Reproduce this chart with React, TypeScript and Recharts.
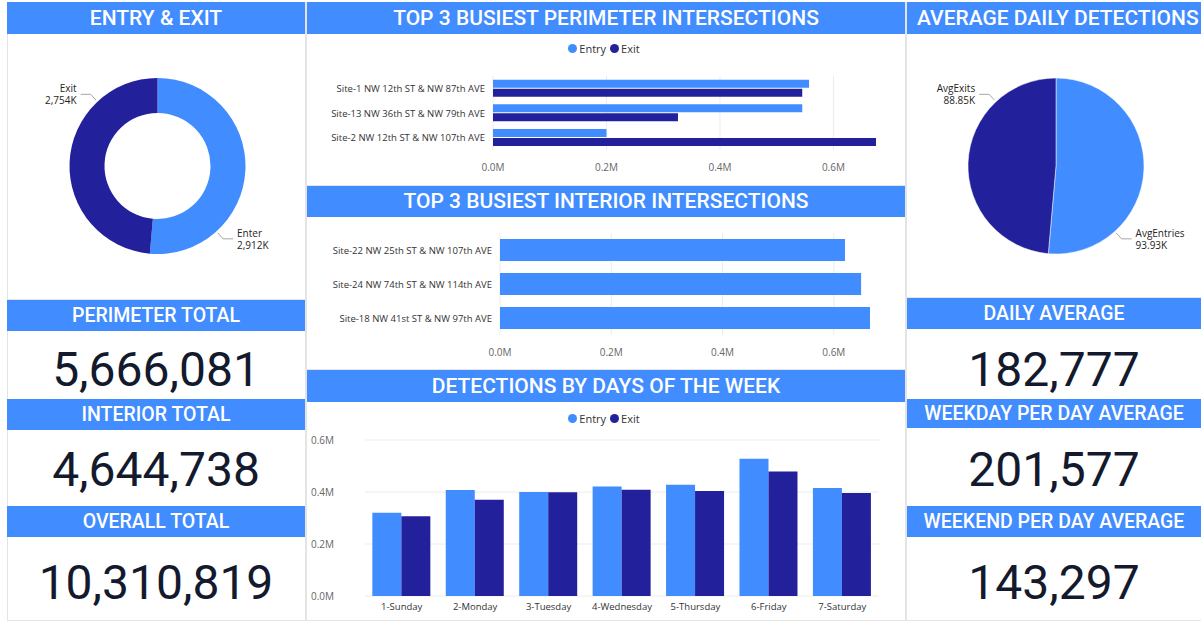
import React from 'react'
import { PieChart, Pie, Cell, BarChart, Bar, XAxis, YAxis, CartesianGrid } from 'recharts'

const BLUE = '#418CFF'
const NAVY = '#23209B'
const BORDER = '#e4e4e4'
const HEAD_FONT = 'Roboto, "DejaVu Sans", sans-serif'
const UI_FONT = '"Segoe UI", "Open Sans", sans-serif'

// donut + pie
const entryExitNames = ['Enter', 'Exit']
const entryExitValues = [2912000, 2754000]
const entryExitText = ['2,912K', '2,754K']

const avgNames = ['AvgEntries', 'AvgExits']
const avgValues = [93930, 88850]
const avgText = ['93.93K', '88.85K']

// bar charts (raw detection counts)
const perimeterSites = [
  'Site-1 NW 12th ST & NW 87th AVE',
  'Site-13 NW 36th ST & NW 79th AVE',
  'Site-2 NW 12th ST & NW 107th AVE',
]
const perimeterEntry = [557000, 545000, 200000]
const perimeterExit = [545000, 326000, 675000]

const interiorSites = [
  'Site-22 NW 25th ST & NW 107th AVE',
  'Site-24 NW 74th ST & NW 114th AVE',
  'Site-18 NW 41st ST & NW 97th AVE',
]
const interiorValues = [620000, 649000, 665000]

const days = ['1-Sunday', '2-Monday', '3-Tuesday', '4-Wednesday', '5-Thursday', '6-Friday', '7-Saturday']
const dayEntry = [320000, 408000, 400000, 421000, 428000, 528000, 415000]
const dayExit = [307000, 370000, 399000, 409000, 404000, 479000, 396000]

const axisTicks = [0, 200000, 400000, 600000]

// KPI cards
const leftTitles = ['PERIMETER TOTAL', 'INTERIOR TOTAL', 'OVERALL TOTAL']
const leftValues = ['5,666,081', '4,644,738', '10,310,819']
const rightTitles = ['DAILY AVERAGE', 'WEEKDAY PER DAY AVERAGE', 'WEEKEND PER DAY AVERAGE']
const rightValues = ['182,777', '201,577', '143,297']

const cardHeaderTops = [300, 399, 506]
const cardValueCenters = [370, 470, 583]

const fmtM = (v: number) => `${(v / 1e6).toFixed(1)}M`
const RADIAN = Math.PI / 180

function sliceLabel(texts: string[]) {
  return (props: any) => {
    const { cx, cy, outerRadius, index, name } = props
    const right = index === 0
    const a = (right ? -48 : 133) * RADIAN
    const r0 = outerRadius + 2
    const r1 = outerRadius + 10
    const x0 = cx + r0 * Math.cos(a)
    const y0 = cy - r0 * Math.sin(a)
    const x1 = cx + r1 * Math.cos(a)
    const y1 = cy - r1 * Math.sin(a)
    const x2 = x1 + (right ? 10 : -10)
    const tx = x2 + (right ? 4 : -4)
    return (
      <g>
        <polyline points={`${x0},${y0} ${x1},${y1} ${x2},${y1}`} stroke="#a6a6a6" fill="none" />
        <text x={tx} y={y1} textAnchor={right ? 'start' : 'end'} fontSize={10} fontFamily={UI_FONT} fill="#252423">
          <tspan x={tx} dy={-2}>{name}</tspan>
          <tspan x={tx} dy={12}>{texts[index]}</tspan>
        </text>
      </g>
    )
  }
}

// single-line category tick (recharts would wrap long labels)
const SiteTick = (props: any) => {
  const { x, y, payload } = props
  return (
    <text x={x} y={y} dy={3.5} textAnchor="end" fontSize={9.5} fontFamily={UI_FONT} fill="#333">
      {payload.value}
    </text>
  )
}

function Box({ x, y, w, h }: { x: number; y: number; w: number; h: number }) {
  return (
    <div style={{ position: 'absolute', left: x, top: y, width: w - 2, height: h - 2, border: `1px solid ${BORDER}` }} />
  )
}

function Header({ x, y, w, h, text, size = 21 }: { x: number; y: number; w: number; h: number; text: string; size?: number }) {
  return (
    <div
      style={{
        position: 'absolute', left: x, top: y, width: w, height: h, background: BLUE, color: '#fff',
        fontFamily: HEAD_FONT, fontSize: size, fontWeight: 500, lineHeight: `${h}px`, textAlign: 'center',
        whiteSpace: 'nowrap', overflow: 'hidden', padding: '0 10px', boxSizing: 'border-box',
      }}
    >
      {text}
    </div>
  )
}

function BigNumber({ x, w, cy, text }: { x: number; w: number; cy: number; text: string }) {
  return (
    <div
      style={{
        position: 'absolute', left: x, top: cy - 30, width: w, height: 60, lineHeight: '60px', textAlign: 'center',
        fontFamily: HEAD_FONT, fontSize: 48, color: '#141a2e',
      }}
    >
      {text}
    </div>
  )
}

function Legend({ x, y, w }: { x: number; y: number; w: number }) {
  const item = (color: string, label: string) => (
    <span style={{ display: 'inline-flex', alignItems: 'center', marginRight: 4 }}>
      <span style={{ width: 9, height: 9, borderRadius: '50%', background: color, marginRight: 2 }} />
      {label}
    </span>
  )
  return (
    <div
      style={{
        position: 'absolute', left: x, top: y - 8, width: w, height: 16, display: 'flex', justifyContent: 'center',
        alignItems: 'center', fontFamily: UI_FONT, fontSize: 11, color: '#333',
      }}
    >
      {item(BLUE, 'Entry')}
      {item(NAVY, 'Exit')}
    </div>
  )
}

export default function App() {
  const entryExitData = entryExitNames.map((name, i) => ({ name, value: entryExitValues[i] }))
  const avgData = avgNames.map((name, i) => ({ name, value: avgValues[i] }))
  const perimeterData = perimeterSites.map((site, i) => ({ site, entry: perimeterEntry[i], exit: perimeterExit[i] }))
  const interiorData = interiorSites.map((site, i) => ({ site, value: interiorValues[i] }))
  const dayData = days.map((day, i) => ({ day, entry: dayEntry[i], exit: dayExit[i] }))
  const colors = [BLUE, NAVY]

  return (
    <div style={{ position: 'fixed', left: 0, top: 0, width: 1201, height: 621, background: '#fff', overflow: 'hidden' }}>
      {/* panel outlines */}
      <Box x={7} y={2} w={299} h={298} />
      <Box x={7} y={300} w={299} h={321} />
      <Box x={306} y={2} w={600} h={184} />
      <Box x={306} y={186} w={600} h={184} />
      <Box x={306} y={370} w={600} h={251} />
      <Box x={906} y={2} w={296} h={296} />
      <Box x={906} y={298} w={296} h={323} />

      {/* left column */}
      <Header x={7} y={2} w={298} h={32} text="ENTRY & EXIT" />
      <div style={{ position: 'absolute', left: 7, top: 34 }}>
        <PieChart width={298} height={264}>
          <Pie
            data={entryExitData}
            dataKey="value"
            nameKey="name"
            cx={145.5}
            cy={127}
            innerRadius={53}
            outerRadius={88}
            startAngle={90}
            endAngle={-270}
            stroke="none"
            label={sliceLabel(entryExitText)}
            labelLine={false}
            isAnimationActive={false}
          >
            {entryExitData.map((d, i) => <Cell key={d.name} fill={colors[i]} />)}
          </Pie>
        </PieChart>
      </div>
      {leftTitles.map((t, i) => (
        <React.Fragment key={t}>
          <Header x={7} y={cardHeaderTops[i]} w={298} h={31} text={t} size={19.5} />
          <BigNumber x={7} w={298} cy={cardValueCenters[i]} text={leftValues[i]} />
        </React.Fragment>
      ))}

      {/* middle column */}
      <Header x={307} y={2} w={598} h={32} text="TOP 3 BUSIEST PERIMETER INTERSECTIONS" />
      <Legend x={307} y={48} w={598} />
      <div style={{ position: 'absolute', left: 307, top: 34 }}>
        <BarChart
          layout="vertical"
          width={598}
          height={151}
          data={perimeterData}
          margin={{ top: 42, right: 29, bottom: 5, left: 0 }}
          barGap={1}
          barCategoryGap="15%"
        >
          <CartesianGrid horizontal={false} stroke="#ececec" syncWithTicks />
          <XAxis
            type="number"
            domain={[0, 'dataMax']}
            ticks={axisTicks}
            tickFormatter={fmtM}
            axisLine={false}
            tickLine={false}
            tickMargin={8}
            height={30}
            tick={{ fill: '#666', fontSize: 10, fontFamily: UI_FONT }}
          />
          <YAxis type="category" dataKey="site" width={186} axisLine={false} tickLine={false} tick={<SiteTick />} />
          <Bar dataKey="entry" fill={BLUE} isAnimationActive={false} />
          <Bar dataKey="exit" fill={NAVY} isAnimationActive={false} />
        </BarChart>
      </div>

      <Header x={307} y={186} w={598} h={31} text="TOP 3 BUSIEST INTERIOR INTERSECTIONS" />
      <div style={{ position: 'absolute', left: 307, top: 217 }}>
        <BarChart
          layout="vertical"
          width={598}
          height={153}
          data={interiorData}
          margin={{ top: 16, right: 35, bottom: 5, left: 0 }}
          barCategoryGap="18%"
        >
          <CartesianGrid horizontal={false} stroke="#ececec" syncWithTicks />
          <XAxis
            type="number"
            domain={[0, 'dataMax']}
            ticks={axisTicks}
            tickFormatter={fmtM}
            axisLine={false}
            tickLine={false}
            tickMargin={8}
            height={30}
            tick={{ fill: '#666', fontSize: 10, fontFamily: UI_FONT }}
          />
          <YAxis type="category" dataKey="site" width={193} axisLine={false} tickLine={false} tick={<SiteTick />} />
          <Bar dataKey="value" fill={BLUE} isAnimationActive={false} />
        </BarChart>
      </div>

      <Header x={307} y={370} w={598} h={32} text="DETECTIONS BY DAYS OF THE WEEK" />
      <Legend x={307} y={418} w={598} />
      <div style={{ position: 'absolute', left: 307, top: 402 }}>
        <BarChart
          width={598}
          height={218}
          data={dayData}
          margin={{ top: 38, right: 26, bottom: 4, left: 0 }}
          barGap={0}
          barCategoryGap="10%"
        >
          <CartesianGrid vertical={false} stroke="#ececec" />
          <XAxis
            dataKey="day"
            axisLine={false}
            tickLine={false}
            tickMargin={1}
            height={20}
            interval={0}
            tick={{ fill: '#333', fontSize: 9.5, fontFamily: UI_FONT }}
          />
          <YAxis
            type="number"
            domain={[0, 600000]}
            ticks={axisTicks}
            tickFormatter={fmtM}
            width={58}
            axisLine={false}
            tickLine={false}
            tickMargin={25}
            tick={{ fill: '#666', fontSize: 10, fontFamily: UI_FONT }}
          />
          <Bar dataKey="entry" fill={BLUE} isAnimationActive={false} />
          <Bar dataKey="exit" fill={NAVY} isAnimationActive={false} />
        </BarChart>
      </div>

      {/* right column */}
      <Header x={907} y={2} w={294} h={32} text="AVERAGE DAILY DETECTIONS" />
      <div style={{ position: 'absolute', left: 907, top: 34 }}>
        <PieChart width={294} height={264}>
          <Pie
            data={avgData}
            dataKey="value"
            nameKey="name"
            cx={144}
            cy={127}
            outerRadius={88}
            startAngle={90}
            endAngle={-270}
            stroke="#fff"
            strokeWidth={0.5}
            label={sliceLabel(avgText)}
            labelLine={false}
            isAnimationActive={false}
          >
            {avgData.map((d, i) => <Cell key={d.name} fill={colors[i]} />)}
          </Pie>
        </PieChart>
      </div>
      {rightTitles.map((t, i) => (
        <React.Fragment key={t}>
          <Header x={907} y={cardHeaderTops[i] - (i === 0 ? 2 : 0)} w={294} h={i === 1 ? 29 : 31} text={t} size={19.5} />
          <BigNumber x={907} w={294} cy={cardValueCenters[i]} text={rightValues[i]} />
        </React.Fragment>
      ))}
    </div>
  )
}
